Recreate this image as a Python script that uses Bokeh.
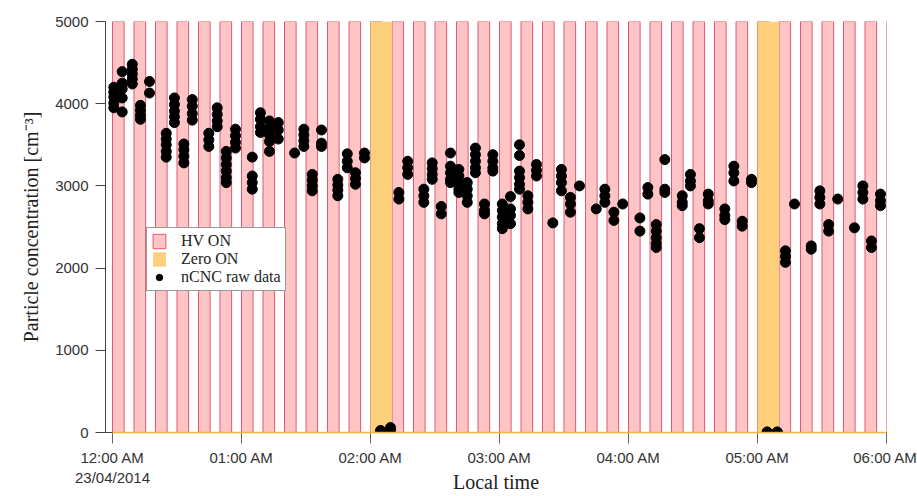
from bokeh.plotting import figure
from bokeh.models import (Range1d, FixedTicker, Legend, LegendItem, ColumnDataSource,
                          LinearAxis)
from bokeh.embed import file_html
from bokeh.resources import INLINE

# ---- data (minutes after 12:00 AM, 23/04/2014) ----
hv_on_start = [0, 10, 20, 30, 40, 50, 60, 70, 80, 90, 100, 110, 120, 130, 140,
               150, 160, 170, 180, 190, 200, 210, 220, 230, 240, 250, 260, 270,
               280, 290, 300, 310, 320, 330, 340, 350, 360]
hv_on_duration = 5.4
zero_on_start = [120, 300]
zero_on_duration = 10
hv_top = 5000

cluster_time = [0.6, 4.5, 9.2, 13.0, 17.2, 25.0, 28.8, 33.2, 37.1, 44.8, 48.7,
                52.9, 57.2, 65.0, 68.8, 73.0, 77.1, 84.7, 89.0, 92.9, 97.2,
                104.8, 109.2, 113.0, 117.2, 124.7, 129.3, 133.2, 137.3, 144.8,
                148.7, 152.9, 157.2, 161.1, 165.0, 168.8, 173.0, 176.9, 181.3,
                185.1, 189.3, 193.2, 197.2, 204.8, 208.8, 213.0, 217.2, 225.0,
                229.0, 233.2, 237.3, 245.3, 249.0, 252.9, 256.9, 265.0, 268.8,
                273.0, 277.1, 284.8, 289.0, 292.9, 297.2, 304.5, 309.2, 313.0,
                317.2, 325.0, 329.0, 333.1, 337.3, 345.1, 349.0, 353.0, 357.2]
cluster_values = [
    [4200, 4140, 4080, 4010, 3950],
    [4390, 4250, 4180, 4070, 3900],
    [4480, 4420, 4360, 4300, 4240],
    [3980, 3920, 3860, 3810],
    [4270, 4130],
    [3640, 3570, 3500, 3420, 3350],
    [4070, 3990, 3910, 3840, 3770],
    [3510, 3440, 3360, 3280],
    [4050, 3970, 3880, 3800],
    [3640, 3560, 3480],
    [3950, 3870, 3790, 3720],
    [3420, 3340, 3260, 3180, 3100, 3040],
    [3690, 3610, 3530, 3460],
    [3350, 3120, 3040, 2960],
    [3890, 3810, 3720, 3650],
    [3790, 3700, 3620, 3540, 3420],
    [3770, 3680, 3570],
    [3400],
    [3690, 3620, 3550, 3480],
    [3140, 3070, 3000, 2940],
    [3680, 3520, 3480],
    [3080, 3010, 2950, 2880],
    [3390, 3300, 3220],
    [3160, 3090, 3020],
    [3400, 3340],
    [15, 25],
    [30, 60],
    [2920, 2840],
    [3300, 3220, 3140],
    [2960, 2880, 2800],
    [3280, 3210, 3140, 3080],
    [2750, 2660],
    [3400, 3240, 3160, 3080, 3040],
    [3200, 3120, 3040, 2960, 2920],
    [3040, 2960, 2880, 2800],
    [3460, 3380, 3300, 3220, 3160],
    [2780, 2700, 2660],
    [3380, 3300, 3220, 3180],
    [2780, 2700, 2620, 2540, 2480],
    [2870, 2720, 2640, 2540],
    [3500, 3370, 3180, 3100, 3020, 2960],
    [2880, 2800, 2720],
    [3260, 3190, 3120],
    [2550],
    [3200, 3120, 3040, 2940],
    [2860, 2780, 2680],
    [3000],
    [2720],
    [2960, 2880, 2800],
    [2680, 2580],
    [2780],
    [2610, 2450],
    [2980, 2900],
    [2530, 2450, 2370, 2300, 2250],
    [3320, 2960, 2920],
    [2880, 2800, 2760],
    [3140, 3060, 3000],
    [2480, 2370],
    [2900, 2820, 2780],
    [2720, 2640, 2590],
    [3240, 3160, 3060],
    [2570, 2510],
    [3080, 3040],
    [5, 5],
    [5, 5],
    [2210, 2140, 2070],
    [2780],
    [2270, 2230],
    [2940, 2860, 2780],
    [2530, 2450],
    [2840],
    [2490],
    [3000, 2920, 2840],
    [2330, 2250],
    [2900, 2820, 2760],
]

x_ticks = [0, 60, 120, 180, 240, 300, 360]
x_tick_labels = ["12:00 AM", "01:00 AM", "02:00 AM", "03:00 AM",
                 "04:00 AM", "05:00 AM", "06:00 AM"]
start_date_label = "23/04/2014"
y_ticks = [0, 1000, 2000, 3000, 4000, 5000]

# ---- build sources ----
cnc_time = [t for t, vs in zip(cluster_time, cluster_values) for v in vs]
cnc_value = [v for t, vs in zip(cluster_time, cluster_values) for v in vs]

hv_src = ColumnDataSource(dict(left=hv_on_start,
                               right=[s + hv_on_duration for s in hv_on_start],
                               bottom=[0] * len(hv_on_start),
                               top=[hv_top] * len(hv_on_start)))
zero_src = ColumnDataSource(dict(left=zero_on_start,
                                 right=[s + zero_on_duration for s in zero_on_start],
                                 bottom=[0] * len(zero_on_start),
                                 top=[hv_top] * len(zero_on_start)))
cnc_src = ColumnDataSource(dict(t=cnc_time, v=cnc_value))

SANS = "Liberation Sans"
SERIF = "Liberation Serif"

p = figure(width=917, height=496,
           x_range=Range1d(-3.26, x_ticks[-1]), y_range=Range1d(0, hv_top),
           output_backend="svg", toolbar_location=None,
           min_border_left=105, min_border_right=31, min_border_top=21,
           min_border_bottom=64)
p.outline_line_color = None
p.grid.visible = False
p.background_fill_color = "white"

hv = p.quad(left="left", right="right", bottom="bottom", top="top", source=hv_src,
            fill_color="#FFC4C6", line_color="#DE5A70", line_width=1)
zero = p.quad(left="left", right="right", bottom="bottom", top="top", source=zero_src,
              fill_color="#FDD07C", line_color=None)
p.segment(x0=[hv_on_start[0]], x1=[x_ticks[-1]], y0=[0], y1=[0],
          line_color="#F2B24A", line_width=1.5, level="overlay")
dots = p.scatter(x="t", y="v", source=cnc_src, size=10, marker="circle",
                 fill_color="black", line_color="black")

# axes
xa = p.xaxis[0]
xa.ticker = FixedTicker(ticks=x_ticks)
xa.major_label_overrides = {t: lab for t, lab in zip(x_ticks, x_tick_labels)}
xa.minor_tick_line_color = None
xa.major_tick_out = 11
xa.major_tick_in = 0
xa.major_tick_line_color = "#666666"
xa.axis_line_color = "#444444"
xa.major_label_text_font = SANS
xa.major_label_text_font_size = "15px"
xa.major_label_text_color = "#333333"
xa.major_label_standoff = 5

# second line of the time axis: the date under the first tick, plus the title
xa2 = LinearAxis(ticker=FixedTicker(ticks=[x_ticks[0]]),
                 major_label_overrides={x_ticks[0]: start_date_label})
xa2.axis_line_color = None
xa2.major_tick_line_color = None
xa2.minor_tick_line_color = None
xa2.major_tick_out = 0
xa2.major_tick_in = 0
xa2.major_label_standoff = 0
xa2.major_label_text_font = SANS
xa2.major_label_text_font_size = "15px"
xa2.major_label_text_color = "#333333"
xa2.axis_label = "Local time"
xa2.axis_label_text_font = SERIF
xa2.axis_label_text_font_size = "20px"
xa2.axis_label_text_font_style = "normal"
xa2.axis_label_text_color = "#222222"
xa2.axis_label_standoff = -18
p.add_layout(xa2, "below")

ya = p.yaxis[0]
ya.ticker = FixedTicker(ticks=y_ticks)
ya.minor_tick_line_color = None
ya.major_tick_out = 10
ya.major_tick_in = 0
ya.major_tick_line_color = "#444444"
ya.axis_line_color = "#444444"
ya.major_label_text_font = SANS
ya.major_label_text_font_size = "15px"
ya.major_label_text_color = "#333333"
ya.major_label_standoff = 7
ya.axis_label = "Particle concentration [cm\u207b\u00b3]"
ya.axis_label_text_font = SERIF
ya.axis_label_text_font_size = "20px"
ya.axis_label_text_font_style = "normal"
ya.axis_label_text_color = "#222222"
ya.axis_label_standoff = 10

legend = Legend(items=[LegendItem(label="HV ON", renderers=[hv]),
                       LegendItem(label="Zero ON", renderers=[zero]),
                       LegendItem(label="nCNC raw data", renderers=[dots])],
                location=(41, 141), margin=0, padding=4, spacing=0,
                label_height=18, glyph_height=18, glyph_width=16,
                label_standoff=14,
                label_text_font=SERIF, label_text_font_size="16px",
                label_text_color="#222222",
                border_line_color="#333333", border_line_width=1,
                background_fill_color="white", background_fill_alpha=1.0)
p.add_layout(legend)

open("out.html", "w").write(file_html(p, INLINE))
